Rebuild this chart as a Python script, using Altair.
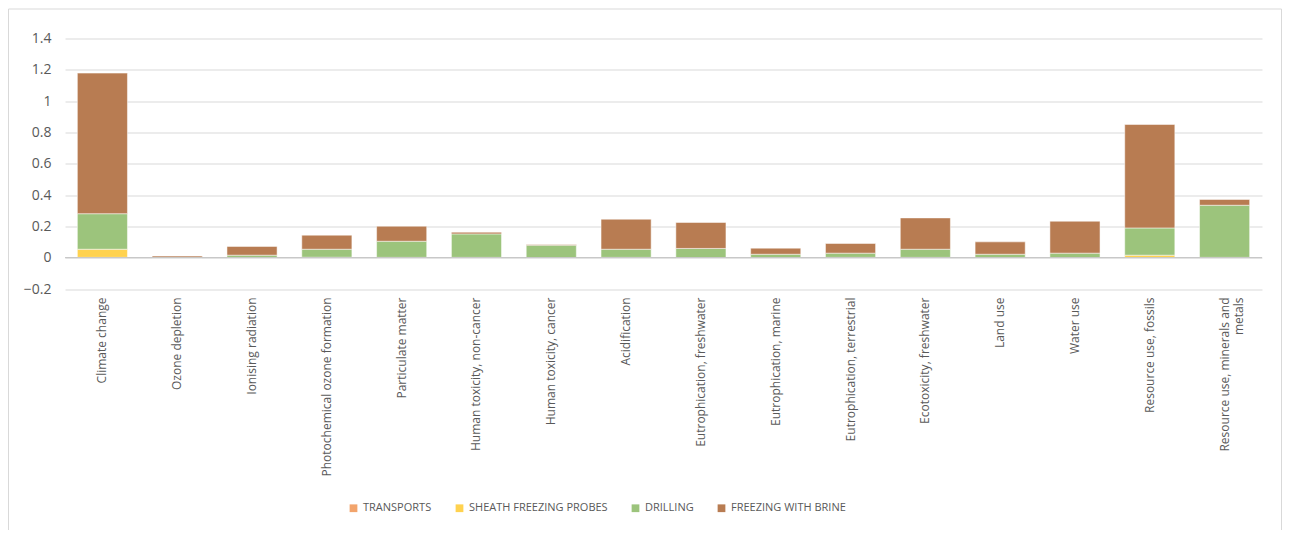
import altair as alt
import pandas as pd

categories = [
    "Climate change", "Ozone depletion", "Ionising radiation",
    "Photochemical ozone formation", "Particulate matter",
    "Human toxicity, non-cancer", "Human toxicity, cancer", "Acidification",
    "Eutrophication, freshwater", "Eutrophication, marine",
    "Eutrophication, terrestrial", "Ecotoxicity, freshwater", "Land use",
    "Water use", "Resource use, fossils", "Resource use, minerals and metals",
]
series = ["TRANSPORTS", "SHEATH FREEZING PROBES", "DRILLING", "FREEZING WITH BRINE"]
colors = ["#F2A46C", "#FFD24F", "#9CC47C", "#B87C52"]

transports = [0.002, 0.000, 0.000, 0.001, 0.000, 0.000, 0.000, 0.000,
              0.000, 0.000, 0.000, 0.000, 0.000, 0.000, 0.001, 0.000]
sheath = [0.052, 0.000, 0.001, 0.002, 0.002, 0.002, 0.001, 0.002,
          0.001, 0.001, 0.002, 0.002, 0.001, 0.001, 0.015, 0.002]
drilling = [0.227, 0.001, 0.015, 0.051, 0.103, 0.150, 0.079, 0.052,
            0.058, 0.021, 0.027, 0.052, 0.021, 0.028, 0.174, 0.333]
brine = [0.898, 0.009, 0.056, 0.090, 0.096, 0.011, 0.004, 0.192,
         0.166, 0.039, 0.062, 0.200, 0.079, 0.204, 0.661, 0.037]

y_ticks = [-0.2, 0, 0.2, 0.4, 0.6, 0.8, 1.0, 1.2, 1.4]

rows = []
for si, (name, vals) in enumerate(zip(series, [transports, sheath, drilling, brine])):
    for c, v in zip(categories, vals):
        rows.append({"category": c, "series": name, "value": v, "order": si})
df = pd.DataFrame(rows)

W, H = 1197, 250.5
PAD_L, PAD_T, PAD_R, PAD_B = 57, 30.5, 20, 241
TXT = "#595959"

bars = alt.Chart(df).mark_bar(stroke="white", strokeWidth=1, strokeOpacity=0.5).encode(
    x=alt.X("category:N", sort=categories, title=None,
            scale=alt.Scale(paddingInner=0.33, paddingOuter=0.165),
            axis=alt.Axis(labelAngle=-90, labelAlign="right", labelBaseline="middle",
                          labelPadding=8, ticks=False, domain=False,
                          labelFont="Open Sans", labelFontSize=12, labelColor=TXT,
                          labelLimit=300, labelLineHeight=14,
                          labelExpr="datum.value == 'Resource use, minerals and metals' ? ['Resource use, minerals and', 'metals'] : datum.label")),
    y=alt.Y("value:Q", stack="zero", title=None,
            scale=alt.Scale(domain=[-0.2, 1.4], nice=False, zero=False),
            axis=alt.Axis(values=y_ticks, format=".1~f",
                          ticks=False, domain=False, labelPadding=14, labelOverlap=False,
                          labelFont="Open Sans", labelFontSize=14, labelColor=TXT,
                          gridColor="#D9D9D9", gridWidth=1)),
    color=alt.Color("series:N", sort=series,
                    scale=alt.Scale(domain=series, range=colors),
                    legend=alt.Legend(title=None, orient="none", direction="horizontal",
                                      legendX=283, legendY=464, symbolType="square",
                                      symbolSize=60, symbolStrokeWidth=0,
                                      labelFont="Open Sans", labelFontSize=11,
                                      labelColor=TXT, columnPadding=22, labelOffset=4)),
    order=alt.Order("order:Q", sort="ascending"),
)

zero_df = pd.DataFrame({"y": [0]})
zero_line = alt.Chart(zero_df).mark_rule(color="#BFBFBF", strokeWidth=1).encode(
    y=alt.Y("y:Q", axis=None)
)

frame = alt.Chart(zero_df).mark_rect(fill=None, stroke="#D9D9D9", strokeWidth=1).encode(
    x=alt.value(-PAD_L + 0.5), x2=alt.value(W + PAD_R - 0.5),
    y=alt.value(-PAD_T + 1), y2=alt.value(H + PAD_B + 5)
)

chart = alt.layer(bars, zero_line, frame).resolve_axis(y="independent").properties(
    width=W, height=H,
    background="white",
    autosize=alt.AutoSizeParams(type="none"),
    padding={"left": PAD_L, "top": PAD_T, "right": PAD_R, "bottom": PAD_B},
).configure_view(stroke=None).configure_axisY(labelOverlap=False)

chart.save("out.html", embed_options={"renderer": "svg", "actions": False})
